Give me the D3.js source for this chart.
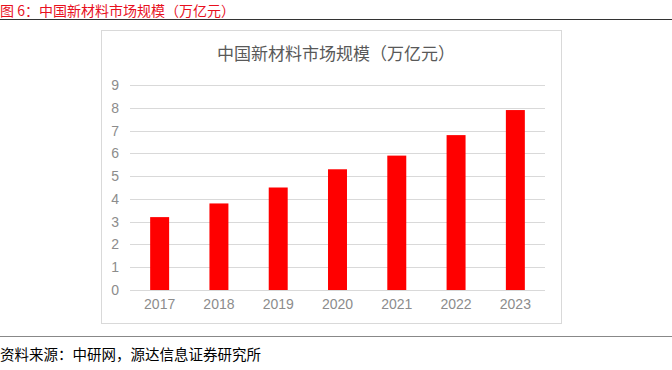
<!DOCTYPE html>
<html>
<head>
<meta charset="utf-8">
<script src="https://cdn.jsdelivr.net/npm/d3@7"></script>
<style>
  body { margin: 0; background: #fff; }
  svg { display: block; font-family: "Noto Sans CJK SC", "Liberation Sans", sans-serif; }
</style>
</head>
<body>
<div id="chart"></div>
<script>
const years = ["2017", "2018", "2019", "2020", "2021", "2022", "2023"];
const marketSize = [3.2, 3.8, 4.5, 5.3, 5.9, 6.8, 7.9];
const yTicks = [0, 1, 2, 3, 4, 5, 6, 7, 8, 9];

const figTitle = "图 6：中国新材料市场规模（万亿元）";
const chartTitle = "中国新材料市场规模（万亿元）";
const sourceText = "资料来源：中研网，源达信息证券研究所";

const w = 672, h = 370;

const svg = d3.select("#chart").append("svg")
    .attr("width", w)
    .attr("height", h);

// header
svg.append("text")
    .attr("x", 0)
    .attr("y", 16)
    .attr("fill", "#e8101e")
    .style("font-size", "14px")
    .text(figTitle);

svg.append("line")
    .attr("x1", 0).attr("x2", w)
    .attr("y1", 19.5).attr("y2", 19.5)
    .attr("stroke", "#333")
    .attr("stroke-width", 1);

// chart frame
svg.append("rect")
    .attr("x", 101.5).attr("y", 30.5)
    .attr("width", 460).attr("height", 293)
    .attr("fill", "#fff")
    .attr("stroke", "#d9d9d9");

svg.append("text")
    .attr("x", 336)
    .attr("y", 60)
    .attr("text-anchor", "middle")
    .attr("fill", "#595959")
    .style("font-size", "17px")
    .text(chartTitle);

const xScale = d3.scaleBand()
    .domain(years)
    .range([130, 545])
    .paddingInner(0.68)
    .paddingOuter(0.34);

const yScale = d3.scaleLinear()
    .domain([0, 9])
    .range([290, 85]);

// grid
svg.append("g")
    .selectAll("line")
    .data(yTicks)
    .enter()
    .append("line")
    .attr("x1", 130).attr("x2", 545)
    .attr("y1", d => Math.round(yScale(d)) + 0.5)
    .attr("y2", d => Math.round(yScale(d)) + 0.5)
    .attr("stroke", "#d9d9d9");

// y axis labels
const yAxis = d3.axisLeft(yScale).tickValues(yTicks).tickSize(0).tickPadding(0);
const gy = svg.append("g")
    .attr("transform", "translate(119,0)")
    .call(yAxis);
gy.select(".domain").remove();
gy.selectAll("text")
    .attr("fill", "#8c8c8c")
    .style("font-size", "14px")
    .style("font-family", "'Liberation Sans', sans-serif");

// bars
svg.selectAll("rect.bar")
    .data(marketSize)
    .enter()
    .append("rect")
    .attr("class", "bar")
    .attr("x", (d, i) => xScale(years[i]))
    .attr("y", d => yScale(d))
    .attr("width", xScale.bandwidth())
    .attr("height", d => yScale(0) - yScale(d))
    .attr("fill", "#ff0000");

// x axis labels
const xAxis = d3.axisBottom(xScale).tickSize(0).tickPadding(9);
const gx = svg.append("g")
    .attr("transform", "translate(0,290)")
    .call(xAxis);
gx.select(".domain").remove();
gx.selectAll("text")
    .attr("fill", "#8c8c8c")
    .style("font-size", "14px")
    .style("font-family", "'Liberation Sans', sans-serif");

// footer
svg.append("line")
    .attr("x1", 0).attr("x2", w)
    .attr("y1", 336.5).attr("y2", 336.5)
    .attr("stroke", "#888")
    .attr("stroke-width", 1);

svg.append("text")
    .attr("x", 0)
    .attr("y", 360)
    .attr("fill", "#000")
    .style("font-size", "14.5px")
    .text(sourceText);
</script>
</body>
</html>
